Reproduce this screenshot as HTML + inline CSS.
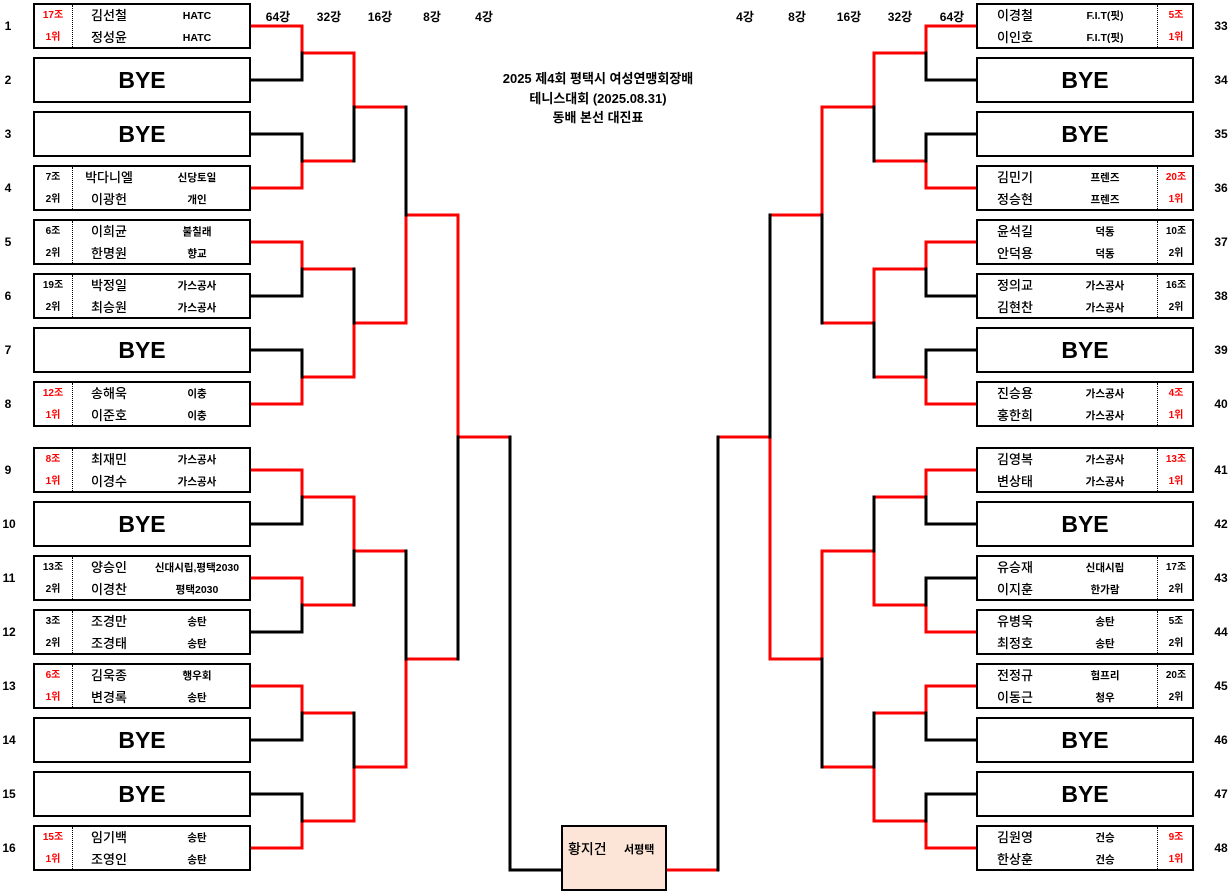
<!DOCTYPE html>
<html><head><meta charset="utf-8"><style>
body{margin:0;width:1231px;height:876px;overflow:hidden;background:#fff;position:relative;font-family:"Liberation Sans","Noto Sans CJK KR",sans-serif;color:#000}
.b{position:absolute;width:218px;height:46px;border:2px solid #000;box-sizing:border-box;background:#fff}
.L{left:33px}.R{left:976px}
.b span{position:absolute;transform:translateX(-50%);white-space:nowrap;line-height:16px}
.r1{top:3px}.r2{top:25px}
.g{font-size:10px;font-weight:bold}
.red{color:#f00}
.n{font-size:13px;font-weight:500}
.c{font-size:10.5px;font-weight:bold}
.d{position:absolute;top:0;bottom:0;border-left:1px dotted #000}
.L .d{left:37px}.R .d{left:179px}
.bye{font-size:23px;font-weight:bold;position:absolute;left:0;right:0;text-align:center;top:8px;line-height:26px}
.num{position:absolute;font-size:12px;font-weight:bold;transform:translate(-50%,-50%)}
.h{position:absolute;font-size:12px;font-weight:bold;top:8px;transform:translateX(-50%)}
.t{position:absolute;left:598px;transform:translateX(-50%);font-size:13px;font-weight:bold;white-space:nowrap}
svg{position:absolute;left:0;top:0}
</style></head><body>
<svg width="1231" height="876">
<g fill="none" stroke-width="3" stroke-linecap="square">
<g stroke="#f00">
<path d="M250 26H302M250 188H302M250 242H302M250 404H302M250 470H302M250 578H302M250 686H302M250 848H302"/>
<path d="M302 26V53M302 161V188M302 242V269M302 377V404M302 470V497M302 578V605M302 686V713M302 821V848"/>
<path d="M302 53H354M302 161H354M302 269H354M302 377H354M302 497H354M302 605H354M302 713H354M302 821H354"/>
<path d="M354 53V107M354 323V377M354 497V551M354 767V821"/>
<path d="M354 107H406M354 323H406M354 551H406M354 767H406"/>
<path d="M406 215V323M406 659V767M406 215H458M406 659H458M458 215V437M458 437H510"/>
<path d="M977 26H926M977 188H926M977 242H926M977 404H926M977 470H926M977 632H926M977 686H926M977 848H926"/>
<path d="M926 26V53M926 161V188M926 242V269M926 377V404M926 470V497M926 605V632M926 686V713M926 821V848"/>
<path d="M926 53H874M926 161H874M926 269H874M926 377H874M926 497H874M926 605H874M926 713H874M926 821H874"/>
<path d="M874 53V107M874 269V323M874 551V605M874 767V821"/>
<path d="M874 107H822M874 323H822M874 551H822M874 767H822"/>
<path d="M822 107V215M822 551V659M822 215H770M822 659H770M770 437V659M770 437H718"/>
<path d="M666 870H718"/>
</g>
<g stroke="#000">
<path d="M250 80H302M250 134H302M250 296H302M250 350H302M250 524H302M250 632H302M250 740H302M250 794H302"/>
<path d="M302 53V80M302 134V161M302 269V296M302 350V377M302 497V524M302 605V632M302 713V740M302 794V821"/>
<path d="M354 107V161M354 269V323M354 551V605M354 713V767"/>
<path d="M406 107V215M406 551V659M458 437V659M510 437V870M510 870H562"/>
<path d="M977 80H926M977 134H926M977 296H926M977 350H926M977 524H926M977 578H926M977 740H926M977 794H926"/>
<path d="M926 53V80M926 134V161M926 269V296M926 350V377M926 497V524M926 578V605M926 713V740M926 794V821"/>
<path d="M874 107V161M874 323V377M874 497V551M874 713V767"/>
<path d="M822 215V323M822 659V767M770 215V437M718 437V870"/>
</g>
</g>
</svg>

<div class="h" style="left:278px">64강</div><div class="h" style="left:329px">32강</div><div class="h" style="left:380px">16강</div><div class="h" style="left:432px">8강</div><div class="h" style="left:484px">4강</div>
<div class="h" style="left:745px">4강</div><div class="h" style="left:797px">8강</div><div class="h" style="left:849px">16강</div><div class="h" style="left:900px">32강</div><div class="h" style="left:952px">64강</div>

<div class="t" style="top:68px">2025 제4회 평택시 여성연맹회장배</div>
<div class="t" style="top:88px">테니스대회 (2025.08.31)</div>
<div class="t" style="top:107px">동배 본선 대진표</div>

<div class="num" style="left:8px;top:26px">1</div><div class="num" style="left:8px;top:80px">2</div><div class="num" style="left:8px;top:134px">3</div><div class="num" style="left:8px;top:188px">4</div><div class="num" style="left:8px;top:242px">5</div><div class="num" style="left:8px;top:296px">6</div><div class="num" style="left:8px;top:350px">7</div><div class="num" style="left:8px;top:404px">8</div><div class="num" style="left:8px;top:470px">9</div><div class="num" style="left:9px;top:524px">10</div><div class="num" style="left:9px;top:578px">11</div><div class="num" style="left:9px;top:632px">12</div><div class="num" style="left:9px;top:686px">13</div><div class="num" style="left:9px;top:740px">14</div><div class="num" style="left:9px;top:794px">15</div><div class="num" style="left:9px;top:848px">16</div>
<div class="num" style="left:1221px;top:26px">33</div><div class="num" style="left:1221px;top:80px">34</div><div class="num" style="left:1221px;top:134px">35</div><div class="num" style="left:1221px;top:188px">36</div><div class="num" style="left:1221px;top:242px">37</div><div class="num" style="left:1221px;top:296px">38</div><div class="num" style="left:1221px;top:350px">39</div><div class="num" style="left:1221px;top:404px">40</div><div class="num" style="left:1221px;top:470px">41</div><div class="num" style="left:1221px;top:524px">42</div><div class="num" style="left:1221px;top:578px">43</div><div class="num" style="left:1221px;top:632px">44</div><div class="num" style="left:1221px;top:686px">45</div><div class="num" style="left:1221px;top:740px">46</div><div class="num" style="left:1221px;top:794px">47</div><div class="num" style="left:1221px;top:848px">48</div>

<div class="b L" style="top:3px"><div class="d"></div><span class="g red r1" style="left:18px">17조</span><span class="g red r2" style="left:18px">1위</span><span class="n r1" style="left:74px">김선철</span><span class="n r2" style="left:74px">정성윤</span><span class="c r1" style="left:162px">HATC</span><span class="c r2" style="left:162px">HATC</span></div>
<div class="b L" style="top:57px"><div class="bye">BYE</div></div>
<div class="b L" style="top:111px"><div class="bye">BYE</div></div>
<div class="b L" style="top:165px"><div class="d"></div><span class="g r1" style="left:18px">7조</span><span class="g r2" style="left:18px">2위</span><span class="n r1" style="left:74px">박다니엘</span><span class="n r2" style="left:74px">이광헌</span><span class="c r1" style="left:162px">신당토일</span><span class="c r2" style="left:162px">개인</span></div>
<div class="b L" style="top:219px"><div class="d"></div><span class="g r1" style="left:18px">6조</span><span class="g r2" style="left:18px">2위</span><span class="n r1" style="left:74px">이희균</span><span class="n r2" style="left:74px">한명원</span><span class="c r1" style="left:162px">불칠래</span><span class="c r2" style="left:162px">향교</span></div>
<div class="b L" style="top:273px"><div class="d"></div><span class="g r1" style="left:18px">19조</span><span class="g r2" style="left:18px">2위</span><span class="n r1" style="left:74px">박정일</span><span class="n r2" style="left:74px">최승원</span><span class="c r1" style="left:162px">가스공사</span><span class="c r2" style="left:162px">가스공사</span></div>
<div class="b L" style="top:327px"><div class="bye">BYE</div></div>
<div class="b L" style="top:381px"><div class="d"></div><span class="g red r1" style="left:18px">12조</span><span class="g red r2" style="left:18px">1위</span><span class="n r1" style="left:74px">송해욱</span><span class="n r2" style="left:74px">이준호</span><span class="c r1" style="left:162px">이충</span><span class="c r2" style="left:162px">이충</span></div>
<div class="b L" style="top:447px"><div class="d"></div><span class="g red r1" style="left:18px">8조</span><span class="g red r2" style="left:18px">1위</span><span class="n r1" style="left:74px">최재민</span><span class="n r2" style="left:74px">이경수</span><span class="c r1" style="left:162px">가스공사</span><span class="c r2" style="left:162px">가스공사</span></div>
<div class="b L" style="top:501px"><div class="bye">BYE</div></div>
<div class="b L" style="top:555px"><div class="d"></div><span class="g r1" style="left:18px">13조</span><span class="g r2" style="left:18px">2위</span><span class="n r1" style="left:74px">양승인</span><span class="n r2" style="left:74px">이경찬</span><span class="c r1" style="left:162px">신대시립,평택2030</span><span class="c r2" style="left:162px">평택2030</span></div>
<div class="b L" style="top:609px"><div class="d"></div><span class="g r1" style="left:18px">3조</span><span class="g r2" style="left:18px">2위</span><span class="n r1" style="left:74px">조경만</span><span class="n r2" style="left:74px">조경태</span><span class="c r1" style="left:162px">송탄</span><span class="c r2" style="left:162px">송탄</span></div>
<div class="b L" style="top:663px"><div class="d"></div><span class="g red r1" style="left:18px">6조</span><span class="g red r2" style="left:18px">1위</span><span class="n r1" style="left:74px">김욱종</span><span class="n r2" style="left:74px">변경록</span><span class="c r1" style="left:162px">행우회</span><span class="c r2" style="left:162px">송탄</span></div>
<div class="b L" style="top:717px"><div class="bye">BYE</div></div>
<div class="b L" style="top:771px"><div class="bye">BYE</div></div>
<div class="b L" style="top:825px"><div class="d"></div><span class="g red r1" style="left:18px">15조</span><span class="g red r2" style="left:18px">1위</span><span class="n r1" style="left:74px">임기백</span><span class="n r2" style="left:74px">조영인</span><span class="c r1" style="left:162px">송탄</span><span class="c r2" style="left:162px">송탄</span></div>

<div class="b R" style="top:3px"><div class="d"></div><span class="n r1" style="left:37px">이경철</span><span class="n r2" style="left:37px">이인호</span><span class="c r1" style="left:127px">F.I.T(핏)</span><span class="c r2" style="left:127px">F.I.T(핏)</span><span class="g red r1" style="left:198px">5조</span><span class="g red r2" style="left:198px">1위</span></div>
<div class="b R" style="top:57px"><div class="bye">BYE</div></div>
<div class="b R" style="top:111px"><div class="bye">BYE</div></div>
<div class="b R" style="top:165px"><div class="d"></div><span class="n r1" style="left:37px">김민기</span><span class="n r2" style="left:37px">정승현</span><span class="c r1" style="left:127px">프렌즈</span><span class="c r2" style="left:127px">프렌즈</span><span class="g red r1" style="left:198px">20조</span><span class="g red r2" style="left:198px">1위</span></div>
<div class="b R" style="top:219px"><div class="d"></div><span class="n r1" style="left:37px">윤석길</span><span class="n r2" style="left:37px">안덕용</span><span class="c r1" style="left:127px">덕동</span><span class="c r2" style="left:127px">덕동</span><span class="g r1" style="left:198px">10조</span><span class="g r2" style="left:198px">2위</span></div>
<div class="b R" style="top:273px"><div class="d"></div><span class="n r1" style="left:37px">정의교</span><span class="n r2" style="left:37px">김현찬</span><span class="c r1" style="left:127px">가스공사</span><span class="c r2" style="left:127px">가스공사</span><span class="g r1" style="left:198px">16조</span><span class="g r2" style="left:198px">2위</span></div>
<div class="b R" style="top:327px"><div class="bye">BYE</div></div>
<div class="b R" style="top:381px"><div class="d"></div><span class="n r1" style="left:37px">진승용</span><span class="n r2" style="left:37px">홍한희</span><span class="c r1" style="left:127px">가스공사</span><span class="c r2" style="left:127px">가스공사</span><span class="g red r1" style="left:198px">4조</span><span class="g red r2" style="left:198px">1위</span></div>
<div class="b R" style="top:447px"><div class="d"></div><span class="n r1" style="left:37px">김영복</span><span class="n r2" style="left:37px">변상태</span><span class="c r1" style="left:127px">가스공사</span><span class="c r2" style="left:127px">가스공사</span><span class="g red r1" style="left:198px">13조</span><span class="g red r2" style="left:198px">1위</span></div>
<div class="b R" style="top:501px"><div class="bye">BYE</div></div>
<div class="b R" style="top:555px"><div class="d"></div><span class="n r1" style="left:37px">유승재</span><span class="n r2" style="left:37px">이지훈</span><span class="c r1" style="left:127px">신대시립</span><span class="c r2" style="left:127px">한가람</span><span class="g r1" style="left:198px">17조</span><span class="g r2" style="left:198px">2위</span></div>
<div class="b R" style="top:609px"><div class="d"></div><span class="n r1" style="left:37px">유병욱</span><span class="n r2" style="left:37px">최정호</span><span class="c r1" style="left:127px">송탄</span><span class="c r2" style="left:127px">송탄</span><span class="g r1" style="left:198px">5조</span><span class="g r2" style="left:198px">2위</span></div>
<div class="b R" style="top:663px"><div class="d"></div><span class="n r1" style="left:37px">전정규</span><span class="n r2" style="left:37px">이동근</span><span class="c r1" style="left:127px">험프리</span><span class="c r2" style="left:127px">청우</span><span class="g r1" style="left:198px">20조</span><span class="g r2" style="left:198px">2위</span></div>
<div class="b R" style="top:717px"><div class="bye">BYE</div></div>
<div class="b R" style="top:771px"><div class="bye">BYE</div></div>
<div class="b R" style="top:825px"><div class="d"></div><span class="n r1" style="left:37px">김원영</span><span class="n r2" style="left:37px">한상훈</span><span class="c r1" style="left:127px">건승</span><span class="c r2" style="left:127px">건승</span><span class="g red r1" style="left:198px">9조</span><span class="g red r2" style="left:198px">1위</span></div>

<div style="position:absolute;left:561px;top:825px;width:106px;height:66px;border:2px solid #000;box-sizing:border-box;background:#fce4d6">
<span style="position:absolute;left:5px;top:12px;font-size:14px;font-weight:500">황지건</span>
<span style="position:absolute;left:61px;top:14px;font-size:11px;font-weight:bold">서평택</span>
</div>
</body></html>
